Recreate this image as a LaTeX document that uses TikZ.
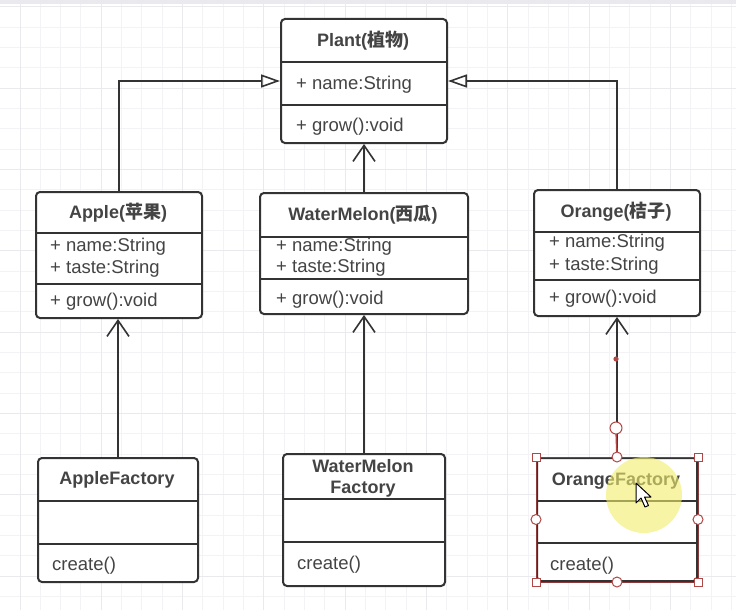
\documentclass[tikz,border=0pt]{standalone}
\usepackage{fontspec}
\setmainfont{Liberation Sans}
\newfontfamily\cjk{Noto Sans CJK SC}
\usetikzlibrary{arrows.meta}
\definecolor{boxc}{HTML}{333333}
\definecolor{txtc}{HTML}{444444}
\definecolor{gridminor}{HTML}{F3F3F6}
\definecolor{gridmajor}{HTML}{EAEAEE}
\definecolor{selred}{HTML}{B04848}
\definecolor{hilite}{HTML}{F2EE6A}
\tikzset{
  cls/.style={draw=boxc, line width=2pt, rounded corners=4pt, fill=white, inner sep=0pt, anchor=north west},
  sep/.style={draw=boxc, line width=2pt},
  hdr/.style={inner sep=0pt, text=txtc, font=\fontsize{18}{21}\selectfont\bfseries, align=center},
  attr/.style={inner sep=0pt, anchor=west, text=txtc, font=\fontsize{18.5}{21}\selectfont},
  inh/.style={draw=boxc, line width=1.6pt, -{Triangle[open, length=19pt, width=13pt, line width=1.6pt]}},
  assoc/.style={draw=boxc, line width=1.6pt, -{Straight Barb[length=16pt, width=22pt, line width=1.6pt]}},
  handle/.style={draw=selred, fill=white, line width=1pt, minimum size=8pt, inner sep=0pt},
  hcirc/.style={draw=selred, fill=white, line width=1pt, circle, minimum size=10pt, inner sep=0pt},
}
\begin{document}
\begin{tikzpicture}[x=1pt, y=-1pt]
\useasboundingbox (0,0) rectangle (736,610);
\fill[white] (0,0) rectangle (736,610);
% grid
\foreach \i in {-1,...,36} {
  \pgfmathsetmacro{\xx}{20+20.33*\i}
  \draw[gridminor, line width=1pt] (\xx,0) -- (\xx,610);
}
\foreach \i in {0,...,30} {
  \pgfmathsetmacro{\yy}{7+20.33*\i}
  \draw[gridminor, line width=1pt] (0,\yy) -- (736,\yy);
}
\foreach \i in {0,...,9} {
  \pgfmathsetmacro{\xx}{20+81.33*\i}
  \draw[gridmajor, line width=1pt] (\xx,0) -- (\xx,610);
}
\foreach \i in {0,...,7} {
  \pgfmathsetmacro{\yy}{7+81.33*\i}
  \draw[gridmajor, line width=1pt] (0,\yy) -- (736,\yy);
}
\fill[gridmajor] (0,0) rectangle (736,4);

% Plant
\node[cls, minimum width=166pt, minimum height=124pt] (plant) at (280,18) {};
\node[hdr] (plantT) at (363,41) {Plant({\cjk\bfseries 植物})};
\node[attr] (plantA) at (296,85) {+ name:String};
\node[attr] (plantM) at (296,127) {+ grow():void};
\draw[sep] (plant.west |- 0,62) -- (plant.east |- 0,62);
\draw[sep] (plant.west |- 0,105) -- (plant.east |- 0,105);

% Apple
\node[cls, minimum width=166pt, minimum height=126pt] (apple) at (35,191) {};
\node[hdr] (appleT) at (118,213) {Apple({\cjk\bfseries 苹果})};
\node[attr] (appleA1) at (50,247) {+ name:String};
\node[attr] (appleA2) at (50,269) {+ taste:String};
\node[attr] (appleM) at (50,302) {+ grow():void};
\draw[sep] (apple.west |- 0,233) -- (apple.east |- 0,233);
\draw[sep] (apple.west |- 0,284) -- (apple.east |- 0,284);

% WaterMelon
\node[cls, minimum width=208pt, minimum height=121pt] (wm) at (259,192) {};
\node[hdr] (wmT) at (363,215) {WaterMelon({\cjk\bfseries 西瓜})};
\node[attr] (wmA1) at (276,247) {+ name:String};
\node[attr] (wmA2) at (276,268) {+ taste:String};
\node[attr] (wmM) at (276,300) {+ grow():void};
\draw[sep] (wm.west |- 0,237) -- (wm.east |- 0,237);
\draw[sep] (wm.west |- 0,279) -- (wm.east |- 0,279);

% Orange
\node[cls, minimum width=166pt, minimum height=126pt] (orange) at (533,189) {};
\node[hdr] (orangeT) at (616,212) {Orange({\cjk\bfseries 桔子})};
\node[attr] (orangeA1) at (549,243) {+ name:String};
\node[attr] (orangeA2) at (549,266) {+ taste:String};
\node[attr] (orangeM) at (549,299) {+ grow():void};
\draw[sep] (orange.west |- 0,232) -- (orange.east |- 0,232);
\draw[sep] (orange.west |- 0,280) -- (orange.east |- 0,280);

% AppleFactory
\node[cls, minimum width=160pt, minimum height=124pt] (applef) at (37,457) {};
\node[hdr] (applefT) at (117,480) {AppleFactory};
\node[attr] (applefM) at (52,566) {create()};
\draw[sep] (applef.west |- 0,501) -- (applef.east |- 0,501);
\draw[sep] (applef.west |- 0,544) -- (applef.east |- 0,544);

% WaterMelonFactory
\node[cls, minimum width=162pt, minimum height=132pt] (wmf) at (282,453) {};
\node[hdr] (wmfT1) at (363,466) {WaterMelon};
\node[hdr] (wmfT2) at (363,489) {Factory};
\node[attr] (wmfM) at (297,565) {create()};
\draw[sep] (wmf.west |- 0,499) -- (wmf.east |- 0,499);
\draw[sep] (wmf.west |- 0,542) -- (wmf.east |- 0,542);

% OrangeFactory
\node[cls, minimum width=160pt, minimum height=123pt] (orangef) at (536,457) {};
\node[hdr] (orangefT) at (616,481) {OrangeFactory};
\node[attr] (orangefM) at (550,566) {create()};
\draw[sep] (orangef.west |- 0,501) -- (orangef.east |- 0,501);
\draw[sep] (orangef.west |- 0,543) -- (orangef.east |- 0,543);

% connectors
\draw[inh] (apple.north) |- (plant.west);
\draw[inh] (orange.north) |- (plant.east);
\draw[assoc] (wm.north) -- (plant.south);
\draw[assoc] (applef.north) -- (applef.north |- apple.south);
\draw[assoc] (wmf.north) -- (wmf.north |- wm.south);
\draw[assoc] (orangef.north) -- (orangef.north |- orange.south);

% selection overlay on OrangeFactory
\coordinate (ohc) at (616,428);
\draw[selred, line width=1.6pt] (ohc) -- (orangef.north);
\draw[selred!80!black, line width=0.8pt] (orangef.north west) rectangle (orangef.south east);
\fill[selred] (616,359) circle (2.6pt);
\node[hcirc, minimum size=12pt] (ohcn) at (ohc) {};
\foreach \a in {north west, north east, south west, south east}
  \node[handle] at (orangef.\a) {};
\foreach \a in {north, south, west, east}
  \node[hcirc] at (orangef.\a) {};

% highlight and cursor
\fill[hilite, opacity=0.6] (644,495) circle (38pt);
\filldraw[fill=white, draw=black, line width=1pt, line join=round]
  (636,483) -- (636,503) -- (641,498) -- (645,507) -- (648.5,505.5) -- (644.5,497) -- (651,497) -- cycle;
\end{tikzpicture}
\end{document}
